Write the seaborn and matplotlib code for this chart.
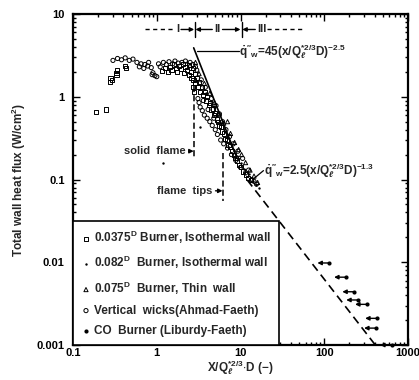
import matplotlib
matplotlib.use("Agg")
import matplotlib.pyplot as plt
import seaborn as sns

# 0.0375 D burner, isothermal wall (open squares)
sq_x = [0.19, 0.245, 0.275, 0.28, 0.29, 0.33, 0.335, 0.33, 0.42, 0.425,
        1.15, 1.25, 1.35, 1.45, 1.5, 1.6, 1.7, 1.75, 1.85, 1.95, 2.05, 2.1,
        2.2, 2.3, 2.4, 2.45, 2.55, 2.6, 2.7, 2.72, 2.75, 2.8, 2.85, 2.9, 3.0,
        3.1, 3.2, 3.3, 3.45, 3.6, 3.75, 3.9, 4.0, 4.2, 4.35, 4.5, 4.7, 4.85,
        5.0, 5.2, 5.4, 5.6, 5.8, 6.0, 6.3, 6.6, 6.9, 7.2, 7.5, 7.9, 8.3, 8.7,
        9.1, 9.6, 10.2, 10.8, 11.5, 12.3, 13.2]
sq_y = [0.66, 0.70, 1.52, 1.68, 1.6, 1.95, 2.1, 1.82, 2.35, 2.2,
        2.05, 2.2, 2.0, 2.3, 2.1, 2.45, 2.2, 2.0, 2.35, 2.15, 2.5, 1.95,
        2.3, 2.1, 1.85, 2.4, 2.0, 1.7, 2.2, 1.3, 1.6, 1.15, 1.9, 1.45, 1.7,
        1.3, 1.5, 1.15, 1.3, 1.05, 1.15, 0.9, 1.0, 0.8, 0.85, 0.7, 0.72, 0.6,
        0.63, 0.53, 0.5, 0.45, 0.43, 0.38, 0.36, 0.31, 0.3, 0.26, 0.25, 0.22,
        0.2, 0.18, 0.17, 0.15, 0.14, 0.125, 0.115, 0.105, 0.098]

# 0.082 D burner, isothermal wall (small dots)
dot_x = [1.2, 3.3, 2.3, 2.6, 3.4, 3.9, 4.4, 4.8, 5.3, 5.9, 6.5, 7.1, 7.7,
         8.4, 9.2, 10.0, 11.0, 12.5, 14.0, 15.5, 16.5]
dot_y = [0.16, 0.43, 2.6, 2.3, 1.4, 1.1, 0.9, 0.75, 0.58, 0.48, 0.37, 0.32,
         0.27, 0.22, 0.19, 0.16, 0.135, 0.115, 0.095, 0.085, 0.08]

# 0.075 D burner, thin wall (triangles)
tri_x = [2.5, 2.9, 3.2, 3.7, 4.3, 4.9, 5.6, 6.3, 7.0, 7.6, 8.5, 9.5, 10.3,
         11.5, 13.0, 14.5, 16.0]
tri_y = [2.4, 2.6, 1.9, 1.45, 1.1, 0.85, 0.62, 0.48, 0.5, 0.36, 0.28, 0.23,
         0.2, 0.16, 0.13, 0.11, 0.092]

# vertical wicks, Ahmad-Faeth (open circles)
cir_x = [0.3, 0.34, 0.38, 0.42, 0.47, 0.52, 0.58, 0.62, 0.65, 0.7, 0.72,
         0.78, 0.8, 0.86, 0.9, 0.95, 1.0, 0.88, 1.05, 1.1, 1.2, 1.3, 1.4,
         1.55, 1.65, 1.8, 2.0, 2.2, 2.5, 2.7, 2.9, 3.0, 3.1, 3.2, 3.3, 3.4,
         3.5, 3.6, 3.7, 3.8, 4.0, 4.1, 4.3, 4.5, 4.6, 4.8, 5.0, 5.1, 5.3,
         5.6, 5.8, 6.1, 6.3, 6.7, 7.0, 7.4, 7.8, 8.2, 8.8, 9.3, 10.0, 10.6,
         11.5, 12.5, 13.5, 14.5, 15.5]
cir_y = [2.75, 2.9, 2.8, 2.95, 2.75, 2.85, 2.6, 2.3, 2.5, 2.2, 2.45,
         2.35, 2.6, 2.25, 1.95, 1.8, 1.75, 1.85, 2.5, 2.3, 2.6, 2.45, 2.65,
         2.5, 2.7, 2.55, 2.6, 2.7, 2.6, 2.45, 2.3, 2.1, 0.95, 0.85, 0.75, 1.6,
         0.68, 0.9, 0.6, 1.3, 0.55, 0.7, 0.5, 0.95, 0.45, 0.55, 0.4, 0.78, 0.35,
         0.62, 0.3, 0.5, 0.27, 0.4, 0.24, 0.33, 0.2, 0.27, 0.17, 0.22, 0.14, 0.18,
         0.12, 0.13, 0.1, 0.095, 0.088]

# CO burner, Liburdy-Faeth (filled dots, upper bounds)
co_x = [115, 182, 228, 254, 324, 427, 415, 645]
co_y = [0.0098, 0.0066, 0.0044, 0.0035, 0.0031, 0.0021, 0.0016, 0.001]

# correlation lines (end points)
fit1_x = [2.76, 9.0]
fit1_y = [3.9, 0.186]
fit2_x = [12.0, 420.0]
fit2_y = [0.099, 0.00096]

sns.set_style("ticks")
plt.rcParams['font.family'] = ['Liberation Sans', 'DejaVu Sans']
plt.rcParams['font.weight'] = 'bold'
plt.rcParams['mathtext.fontset'] = 'custom'
plt.rcParams['mathtext.rm'] = 'Liberation Sans:bold'
plt.rcParams['mathtext.it'] = 'Liberation Sans:italic:bold'
plt.rcParams['mathtext.bf'] = 'Liberation Sans:bold'

fig = plt.figure(figsize=(4.19, 3.80), dpi=100, facecolor="white")
ax = fig.add_axes([73/419, 35/380, 335/419, 331/380])

open_kw = dict(facecolor="none", edgecolor="black", linewidth=0.7, ax=ax)
sns.scatterplot(x=sq_x, y=sq_y, marker="s", s=9,
                label=r"0.0375$^{\mathbf{D}}$ Burner, Isothermal wall", **open_kw)
sns.scatterplot(x=dot_x, y=dot_y, marker="o", s=3, color="black", linewidth=0,
                label=r"0.082$^{\mathbf{D}}$  Burner, Isothermal wall", ax=ax)
sns.scatterplot(x=tri_x, y=tri_y, marker="^", s=9,
                label=r"0.075$^{\mathbf{D}}$  Burner, Thin  wall", **open_kw)
sns.scatterplot(x=cir_x, y=cir_y, marker="o", s=9,
                label="Vertical  wicks(Ahmad-Faeth)", **open_kw)
sns.scatterplot(x=co_x, y=co_y, marker="o", s=9, color="black", linewidth=0,
                label="CO  Burner (Liburdy-Faeth)", ax=ax, clip_on=False, zorder=5)

for x, y in zip(co_x, co_y):
    ax.annotate("", xy=(x * 0.72, y), xytext=(x, y),
                arrowprops=dict(arrowstyle="-|>", color="black", lw=1,
                                mutation_scale=6, shrinkA=0, shrinkB=0),
                annotation_clip=False)

sns.lineplot(x=fit1_x, y=fit1_y, color="black", lw=1.2, ax=ax)
sns.lineplot(x=fit2_x, y=fit2_y, color="black", lw=1.2,
             linestyle=(0, (5, 3)), ax=ax)

ax.set_xscale("log")
ax.set_yscale("log")
ax.set_xlim(0.1, 1000)
ax.set_ylim(0.001, 10)
ax.set_xticks([0.1, 1, 10, 100, 1000])
ax.set_xticklabels(["0.1", "1", "10", "100", "1000"])
ax.set_yticks([0.001, 0.01, 0.1, 1, 10])
ax.set_yticklabels(["0.001", "0.01", "0.1", "1", "10"])
ax.tick_params(which="both", direction="in", top=True, right=True,
               width=1, colors="black", labelsize=8)
ax.tick_params(which="major", length=5)
ax.tick_params(axis="x", which="major", pad=2)
ax.tick_params(axis="y", which="major", pad=6)
ax.tick_params(which="minor", length=2.5)
for s in ax.spines.values():
    s.set_linewidth(1.6)
    s.set_color("black")

ax.set_ylabel("Total wall heat flux (W/cm$^2$)", fontsize=8.5,
              fontweight="bold", labelpad=6)
ax.set_xlabel(r"X/Q$_\ell^{*2/3}$$\cdot$D (−)", fontsize=8.5,
              fontweight="bold", labelpad=0)

# regime markers along the top
ty = 6.5
ax.plot([0.72, 1.6], [ty, ty], color="black", lw=1, ls=(0, (3, 2.5)))
ax.text(1.78, ty, "I", ha="center", va="center", fontsize=8)
arrow = dict(arrowstyle="-|>", color="black", lw=1, mutation_scale=6,
             shrinkA=0, shrinkB=0)
ax.annotate("", xy=(2.8, ty), xytext=(1.95, ty), arrowprops=arrow)
ax.annotate("", xy=(2.9, ty), xytext=(4.6, ty), arrowprops=arrow)
ax.text(5.3, ty, "II", ha="center", va="center", fontsize=8)
ax.annotate("", xy=(10.0, ty), xytext=(6.1, ty), arrowprops=arrow)
ax.annotate("", xy=(10.5, ty), xytext=(15.0, ty), arrowprops=arrow)
ax.text(17.8, ty, "III", ha="center", va="center", fontsize=8)
ax.plot([21, 58], [ty, ty], color="black", lw=1, ls=(0, (3, 2.5)))
for xv in [2.83, 10.3]:
    ax.plot([xv, xv], [5.3, 8.0], color="black", lw=1)

# flame regions
ax.plot([2.76, 2.76], [1.35, 0.18], color="black", lw=1.1, ls=(0, (4, 2)))
ax.plot([6.1, 6.1], [0.21, 0.055], color="black", lw=1.1, ls=(0, (4, 2)))
ax.annotate("solid  flame", xy=(2.76, 0.22), xytext=(2.2, 0.22),
            ha="right", va="center", fontsize=8, arrowprops=arrow)
ax.annotate("flame  tips", xy=(6.1, 0.073), xytext=(4.6, 0.073),
            ha="right", va="center", fontsize=8, arrowprops=arrow)

# correlation labels
qw = r"$\dot{\mathbf{q}}''_{\mathbf{w}}$"
ax.plot([3.0, 9.5], [3.55, 3.55], color="black", lw=0.9)
ax.text(9.7, 3.55, qw + r"=45(x/Q$_\ell^{*2/3}$D)$^{-2.5}$",
        ha="left", va="center", fontsize=8.5)
ax.plot([14.0, 18.8], [0.1, 0.128], color="black", lw=0.9)
ax.text(19.3, 0.13, qw + r"=2.5(x/Q$_\ell^{*2/3}$D)$^{-1.3}$",
        ha="left", va="center", fontsize=8.5)

leg = ax.legend(loc="lower left", borderaxespad=0, frameon=True,
                fancybox=False, edgecolor="black", framealpha=1,
                prop=dict(weight="bold", size=8.5), handletextpad=0.3,
                handlelength=0.8, labelspacing=0.68, borderpad=0.7)
leg.get_frame().set_linewidth(1.2)

fig.savefig("out.png", dpi=100)
